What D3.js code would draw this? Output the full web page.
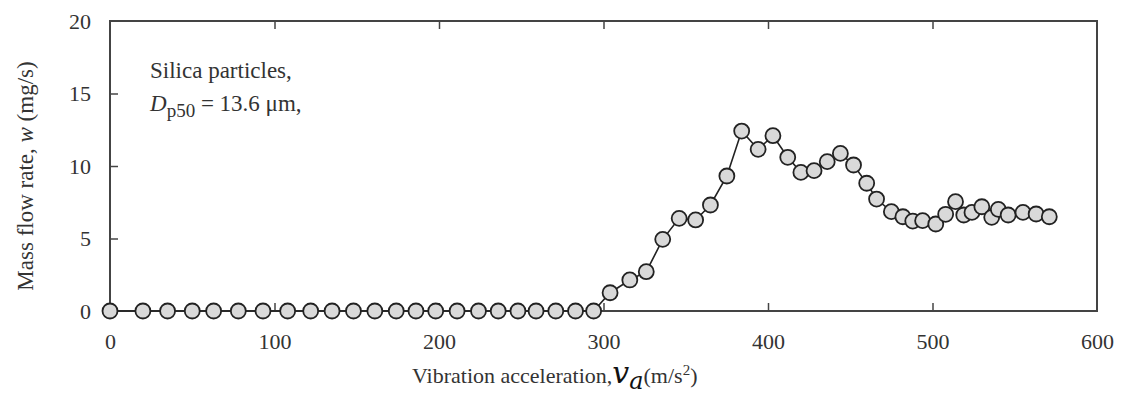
<!DOCTYPE html>
<html>
<head>
<meta charset="utf-8">
<script src="https://cdn.jsdelivr.net/npm/d3@7"></script>
<style>
  body { margin: 0; background: #fff; }
  text { font-family: "Liberation Serif", "Times New Roman", serif; fill: #333; }
</style>
</head>
<body>
<div id="vis"></div>
<script>
// vibration acceleration (m/s2) and mass flow rate (mg/s)
var accel = [0, 20, 35, 50, 63, 78, 93, 108, 122, 135, 148, 161, 174, 186, 198, 211, 224, 236, 248, 259, 271, 283, 294,
             304, 316, 326, 336, 346, 356, 365, 375, 384, 394, 403, 412, 420, 428, 436, 444, 452, 460, 466,
             475, 482, 488, 494, 502, 508, 514, 519, 524, 530, 536, 540, 546, 555, 563, 571];
var flow  = [0, 0, 0, 0, 0, 0, 0, 0, 0, 0, 0, 0, 0, 0, 0, 0, 0, 0, 0, 0, 0, 0, 0,
             1.26, 2.14, 2.71, 4.94, 6.39, 6.28, 7.31, 9.31, 12.41, 11.15, 12.09, 10.6, 9.56, 9.68, 10.3, 10.87, 10.07, 8.81, 7.72,
             6.85, 6.5, 6.2, 6.23, 6.0, 6.67, 7.54, 6.62, 6.8, 7.19, 6.46, 7.01, 6.62, 6.8, 6.69, 6.5];

var xTicks = [0, 100, 200, 300, 400, 500, 600];
var yTicks = [0, 5, 10, 15, 20];

var width = 1123, height = 403;
var margin = {top: 21, right: 26, bottom: 92, left: 110};
var graphWidth = width - margin.left - margin.right,
    graphHeight = height - margin.top - margin.bottom;

var svg = d3.select("#vis").append("svg")
    .attr("width", width)
    .attr("height", height);

var x = d3.scaleLinear().domain([0, 600]).range([0, graphWidth]),
    y = d3.scaleLinear().domain([0, 20]).range([graphHeight, 0]);

var graph = svg.append("g")
    .attr("transform", "translate(" + margin.left + "," + margin.top + ")");

var tickColor = "#444";
var tickFont = "22px";

// bottom axis, ticks pointing inward
graph.append("g")
    .attr("transform", "translate(0," + graphHeight + ")")
    .call(d3.axisBottom(x).tickValues(xTicks).tickSizeInner(-8).tickSizeOuter(0).tickPadding(22))
    .call(function(g) {
      g.select(".domain").remove();
      g.selectAll("line").attr("stroke", tickColor).attr("stroke-width", 1.5)
        .filter(function(d) { return d == 0 || d == 600; }).remove();
      g.selectAll("text").attr("font-size", tickFont).attr("fill", "#333")
        .attr("font-family", "Liberation Serif");
    });

// top ticks
graph.append("g")
    .call(d3.axisTop(x).tickValues(xTicks.slice(1, -1)).tickSizeInner(-8).tickSizeOuter(0).tickFormat(""))
    .call(function(g) {
      g.select(".domain").remove();
      g.selectAll("line").attr("stroke", tickColor).attr("stroke-width", 1.5);
    });

// left axis
graph.append("g")
    .call(d3.axisLeft(y).tickValues(yTicks).tickSizeInner(-8).tickSizeOuter(0).tickPadding(19))
    .call(function(g) {
      g.select(".domain").remove();
      g.selectAll("line").attr("stroke", tickColor).attr("stroke-width", 1.5)
        .filter(function(d) { return d == 0 || d == 20; }).remove();
      g.selectAll("text").attr("font-size", tickFont).attr("fill", "#333")
        .attr("font-family", "Liberation Serif");
    });

// frame
graph.append("rect")
    .attr("x", 0).attr("y", 0)
    .attr("width", graphWidth).attr("height", graphHeight)
    .attr("fill", "none")
    .attr("stroke", "#444")
    .attr("stroke-width", 2);

var points = accel.map(function(a, i) { return {a: a, w: flow[i]}; });

// connecting line
graph.append("path")
    .datum(points)
    .attr("fill", "none")
    .attr("stroke", "#222")
    .attr("stroke-width", 1.6)
    .attr("d", d3.line().x(function(d) { return x(d.a); }).y(function(d) { return y(d.w); }));

// markers
graph.selectAll(".pt")
    .data(points)
    .enter().append("circle")
    .attr("class", "pt")
    .attr("cx", function(d) { return x(d.a); })
    .attr("cy", function(d) { return y(d.w); })
    .attr("r", 7.5)
    .attr("fill", "#d9d9d9")
    .attr("stroke", "#222")
    .attr("stroke-width", 1.8);

// annotation
var note = graph.append("g").attr("font-size", "23px");
note.append("text").attr("x", 40).attr("y", 57).text("Silica particles,");
var t2 = note.append("text").attr("x", 40).attr("y", 90);
t2.append("tspan").attr("font-style", "italic").text("D");
t2.append("tspan").attr("dy", 6).attr("font-size", "19px").text("p50");
t2.append("tspan").attr("dy", -6).text(" = 13.6 \u03bcm,");

// x label
var xl = svg.append("text")
    .attr("x", 412)
    .attr("y", 383)
    .attr("font-size", "22px");
xl.append("tspan").text("Vibration acceleration,");
xl.append("tspan").attr("font-style", "italic").attr("font-size", "30px")
  .attr("font-family", "DejaVu Serif").attr("fill", "#111").text("v");
xl.append("tspan").attr("font-style", "italic").attr("font-size", "24px").attr("dy", 6)
  .attr("font-family", "DejaVu Serif").attr("fill", "#111").text("a");
xl.append("tspan").attr("dy", -6).text("(m/s");
xl.append("tspan").attr("dy", -8).attr("font-size", "15px").text("2");
xl.append("tspan").attr("dy", 8).text(")");

// y label
var yl = svg.append("text")
    .attr("transform", "translate(33," + (margin.top + graphHeight / 2 + 10) + ") rotate(-90)")
    .attr("text-anchor", "middle")
    .attr("font-size", "23px");
yl.append("tspan").text("Mass flow rate, ");
yl.append("tspan").attr("font-style", "italic").text("w");
yl.append("tspan").text(" (mg/s)");
</script>
</body>
</html>
